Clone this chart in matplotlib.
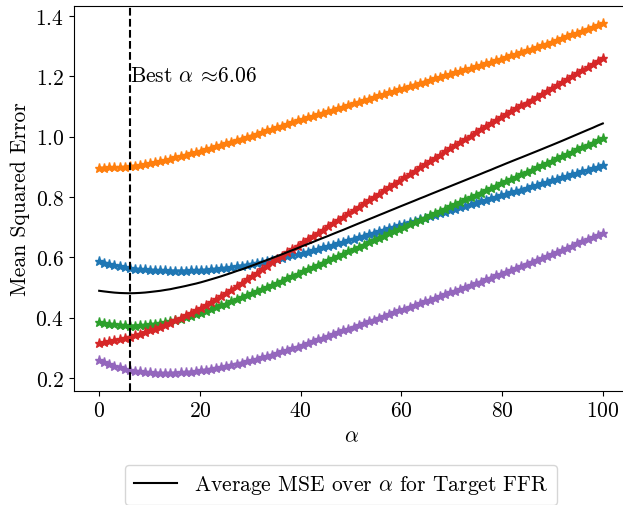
import numpy as np
import matplotlib
matplotlib.use("Agg")
import matplotlib.pyplot as plt

plt.rcParams["font.family"] = "serif"
plt.rcParams["font.serif"] = ["cmr10", "DejaVu Serif"]
plt.rcParams["mathtext.fontset"] = "cm"
plt.rcParams["axes.formatter.use_mathtext"] = True
plt.rcParams["font.size"] = 15.5

alpha = np.linspace(0, 100, 100)

mse_blue = [
    0.587, 0.583, 0.579, 0.575, 0.571, 0.568, 0.565, 0.563, 0.561, 0.560,
    0.559, 0.558, 0.557, 0.557, 0.556, 0.556, 0.556, 0.556, 0.557, 0.557,
    0.558, 0.559, 0.561, 0.562, 0.564, 0.566, 0.568, 0.571, 0.573, 0.576,
    0.579, 0.582, 0.585, 0.588, 0.592, 0.595, 0.599, 0.603, 0.607, 0.611,
    0.615, 0.619, 0.624, 0.628, 0.633, 0.637, 0.642, 0.647, 0.652, 0.657,
    0.662, 0.667, 0.672, 0.677, 0.682, 0.687, 0.692, 0.697, 0.702, 0.707,
    0.712, 0.716, 0.721, 0.726, 0.731, 0.736, 0.741, 0.746, 0.751, 0.756,
    0.761, 0.766, 0.771, 0.776, 0.781, 0.786, 0.791, 0.796, 0.801, 0.806,
    0.811, 0.816, 0.821, 0.825, 0.830, 0.835, 0.840, 0.845, 0.850, 0.855,
    0.860, 0.865, 0.870, 0.875, 0.880, 0.885, 0.890, 0.895, 0.900, 0.905,
]

mse_orange = [
    0.897, 0.897, 0.898, 0.898, 0.899, 0.900, 0.902, 0.904, 0.906, 0.909,
    0.912, 0.916, 0.919, 0.923, 0.927, 0.932, 0.936, 0.940, 0.945, 0.949,
    0.954, 0.959, 0.964, 0.969, 0.974, 0.979, 0.984, 0.989, 0.994, 0.999,
    1.004, 1.010, 1.015, 1.021, 1.026, 1.032, 1.037, 1.043, 1.048, 1.054,
    1.059, 1.064, 1.069, 1.075, 1.080, 1.085, 1.090, 1.095, 1.100, 1.105,
    1.111, 1.116, 1.121, 1.126, 1.132, 1.137, 1.142, 1.147, 1.152, 1.158,
    1.163, 1.168, 1.173, 1.178, 1.183, 1.188, 1.193, 1.198, 1.203, 1.208,
    1.213, 1.218, 1.223, 1.228, 1.233, 1.238, 1.243, 1.248, 1.253, 1.259,
    1.264, 1.270, 1.275, 1.281, 1.286, 1.292, 1.297, 1.303, 1.309, 1.315,
    1.321, 1.327, 1.333, 1.339, 1.345, 1.352, 1.358, 1.364, 1.371, 1.377,
]

mse_green = [
    0.386, 0.383, 0.380, 0.378, 0.376, 0.375, 0.374, 0.374, 0.375, 0.376,
    0.378, 0.380, 0.383, 0.386, 0.389, 0.393, 0.397, 0.402, 0.407, 0.412,
    0.417, 0.423, 0.429, 0.435, 0.441, 0.447, 0.454, 0.461, 0.467, 0.474,
    0.481, 0.488, 0.495, 0.502, 0.509, 0.516, 0.523, 0.531, 0.538, 0.545,
    0.554, 0.561, 0.568, 0.576, 0.583, 0.590, 0.598, 0.605, 0.612, 0.620,
    0.627, 0.635, 0.642, 0.650, 0.657, 0.665, 0.672, 0.680, 0.687, 0.695,
    0.702, 0.710, 0.717, 0.725, 0.732, 0.740, 0.747, 0.755, 0.762, 0.770,
    0.777, 0.785, 0.792, 0.800, 0.807, 0.815, 0.823, 0.830, 0.838, 0.845,
    0.853, 0.860, 0.868, 0.875, 0.883, 0.890, 0.898, 0.905, 0.913, 0.920,
    0.928, 0.935, 0.943, 0.950, 0.958, 0.965, 0.973, 0.980, 0.988, 0.995,
]

mse_red = [
    0.316, 0.319, 0.322, 0.325, 0.329, 0.333, 0.337, 0.342, 0.347, 0.352,
    0.358, 0.364, 0.370, 0.377, 0.384, 0.392, 0.400, 0.408, 0.416, 0.424,
    0.433, 0.442, 0.451, 0.461, 0.471, 0.482, 0.493, 0.504, 0.515, 0.527,
    0.538, 0.549, 0.561, 0.572, 0.584, 0.595, 0.606, 0.617, 0.628, 0.639,
    0.650, 0.661, 0.671, 0.682, 0.692, 0.703, 0.714, 0.725, 0.735, 0.746,
    0.757, 0.768, 0.779, 0.790, 0.800, 0.811, 0.822, 0.833, 0.844, 0.854,
    0.865, 0.876, 0.887, 0.898, 0.908, 0.919, 0.930, 0.940, 0.951, 0.961,
    0.972, 0.982, 0.993, 1.003, 1.014, 1.024, 1.034, 1.044, 1.055, 1.065,
    1.075, 1.085, 1.094, 1.104, 1.113, 1.123, 1.132, 1.142, 1.151, 1.161,
    1.170, 1.180, 1.190, 1.201, 1.211, 1.221, 1.231, 1.241, 1.252, 1.262,
]

mse_purple = [
    0.260, 0.253, 0.246, 0.240, 0.235, 0.231, 0.227, 0.224, 0.222, 0.220,
    0.219, 0.218, 0.217, 0.217, 0.217, 0.218, 0.219, 0.220, 0.221, 0.223,
    0.225, 0.228, 0.231, 0.234, 0.237, 0.241, 0.244, 0.248, 0.251, 0.255,
    0.259, 0.264, 0.269, 0.273, 0.278, 0.283, 0.288, 0.293, 0.299, 0.304,
    0.310, 0.316, 0.322, 0.328, 0.334, 0.340, 0.346, 0.352, 0.358, 0.364,
    0.370, 0.376, 0.382, 0.388, 0.394, 0.400, 0.406, 0.412, 0.418, 0.424,
    0.430, 0.436, 0.442, 0.448, 0.454, 0.460, 0.466, 0.472, 0.478, 0.484,
    0.490, 0.496, 0.502, 0.508, 0.514, 0.520, 0.527, 0.533, 0.540, 0.546,
    0.553, 0.559, 0.566, 0.572, 0.579, 0.585, 0.592, 0.598, 0.605, 0.611,
    0.618, 0.625, 0.632, 0.639, 0.646, 0.653, 0.660, 0.667, 0.674, 0.681,
]

series = [mse_blue, mse_orange, mse_green, mse_red, mse_purple]
colors = ["#1f77b4", "#ff7f0e", "#2ca02c", "#d62728", "#9467bd"]

avg_mse = np.mean(np.array(series), axis=0)
best_alpha = alpha[np.argmin(avg_mse)]

fig = plt.figure(figsize=(6.23, 5.06), dpi=100)
ax = fig.add_axes([74 / 623, 114.3 / 506, (628 - 74) / 623, 384.9 / 506])

for s, c in zip(series, colors):
    ax.plot(alpha, s, marker="*", markersize=6.5, linestyle="-", linewidth=1.8, color=c)

ax.plot(alpha, avg_mse, color="black", linewidth=1.5,
        label=r"Average MSE over $\alpha$ for Target FFR")
ax.axvline(best_alpha, color="black", linestyle="--", linewidth=1.5)
ax.text(best_alpha, 1.185, r"Best $\alpha$ $\!\approx\!$" + f"{best_alpha:.2f}",
        ha="left", va="baseline")

ax.set_xlim(-5, 105)
ax.set_ylim(0.158, 1.434)
ax.set_xticks([0, 20, 40, 60, 80, 100])
ax.set_yticks([0.2, 0.4, 0.6, 0.8, 1.0, 1.2, 1.4])
ax.set_xlabel(r"$\alpha$")
ax.set_ylabel("Mean Squared Error")

fig.legend(loc="center", bbox_to_anchor=(341 / 623, 1 - 486 / 506),
           bbox_transform=fig.transFigure, frameon=True)

fig.savefig("out.png", dpi=100)
